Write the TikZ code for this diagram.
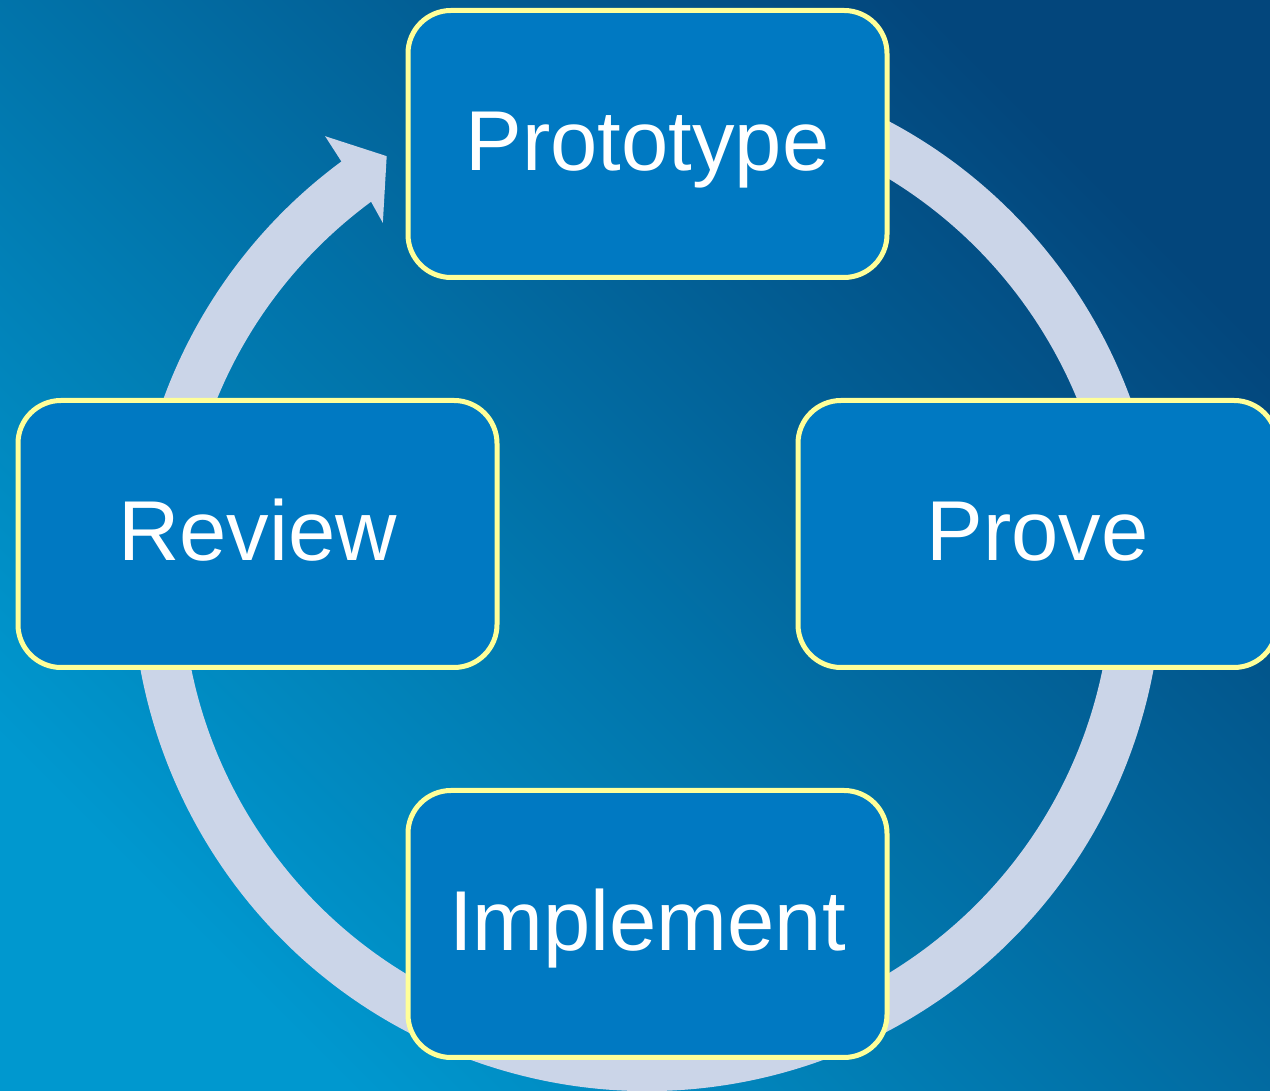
\documentclass[tikz,border=0pt]{standalone}
\usepackage{fontspec}
\setmainfont{Liberation Sans}
\usepackage{xcolor}
\usepackage{tikz}
\usetikzlibrary{shapes,arrows}
\definecolor{bgdark}{HTML}{03467C}
\definecolor{bgmid}{HTML}{04689F}
\definecolor{bglight}{HTML}{0098CF}
\definecolor{stagefill}{HTML}{0079C2}
\definecolor{stageedge}{HTML}{FFFF99}
\definecolor{ringgray}{HTML}{CBD5E8}
\tikzstyle{stage} = [rectangle, draw=stageedge, fill=stagefill, line width=5pt,
    rounded corners=43pt, minimum width=479pt, minimum height=267pt, inner sep=0pt,
    text=white, font=\fontsize{85}{100}\selectfont, text height=62pt, text depth=8pt]
\tikzstyle{ring} = [fill=ringgray]

\begin{document}
\begin{tikzpicture}[x=1pt, y=1pt, node distance=390pt]
    \useasboundingbox (0,0) rectangle (1270,1091);
    \clip (0,0) rectangle (1270,1091);
    % Background
    \shade [top color=bgdark, middle color=bgmid, bottom color=bglight, shading angle=-45]
        (0,0) rectangle (1270,1091);
    % Cycle arrow (behind the boxes)
    \coordinate (ringCenter) at (647,515);
    \path [ring, shift={(ringCenter)}] (126.4:465) arc [start angle=126.4, end angle=430, radius=465]
        -- (430:515) arc [start angle=430, end angle=126.4, radius=515]
        -- (126.2:545) -- (121.8:494) -- (126.8:441) -- cycle;
    % Place nodes
    \coordinate (hub) at (647.5,557);
    \node [stage, above of=hub] (prototype) {Prototype};
    \node [stage, right of=hub] (prove) {Prove};
    \node [stage, below of=hub] (implement) {Implement};
    \node [stage, left of=hub] (review) {Review};
\end{tikzpicture}
\end{document}
